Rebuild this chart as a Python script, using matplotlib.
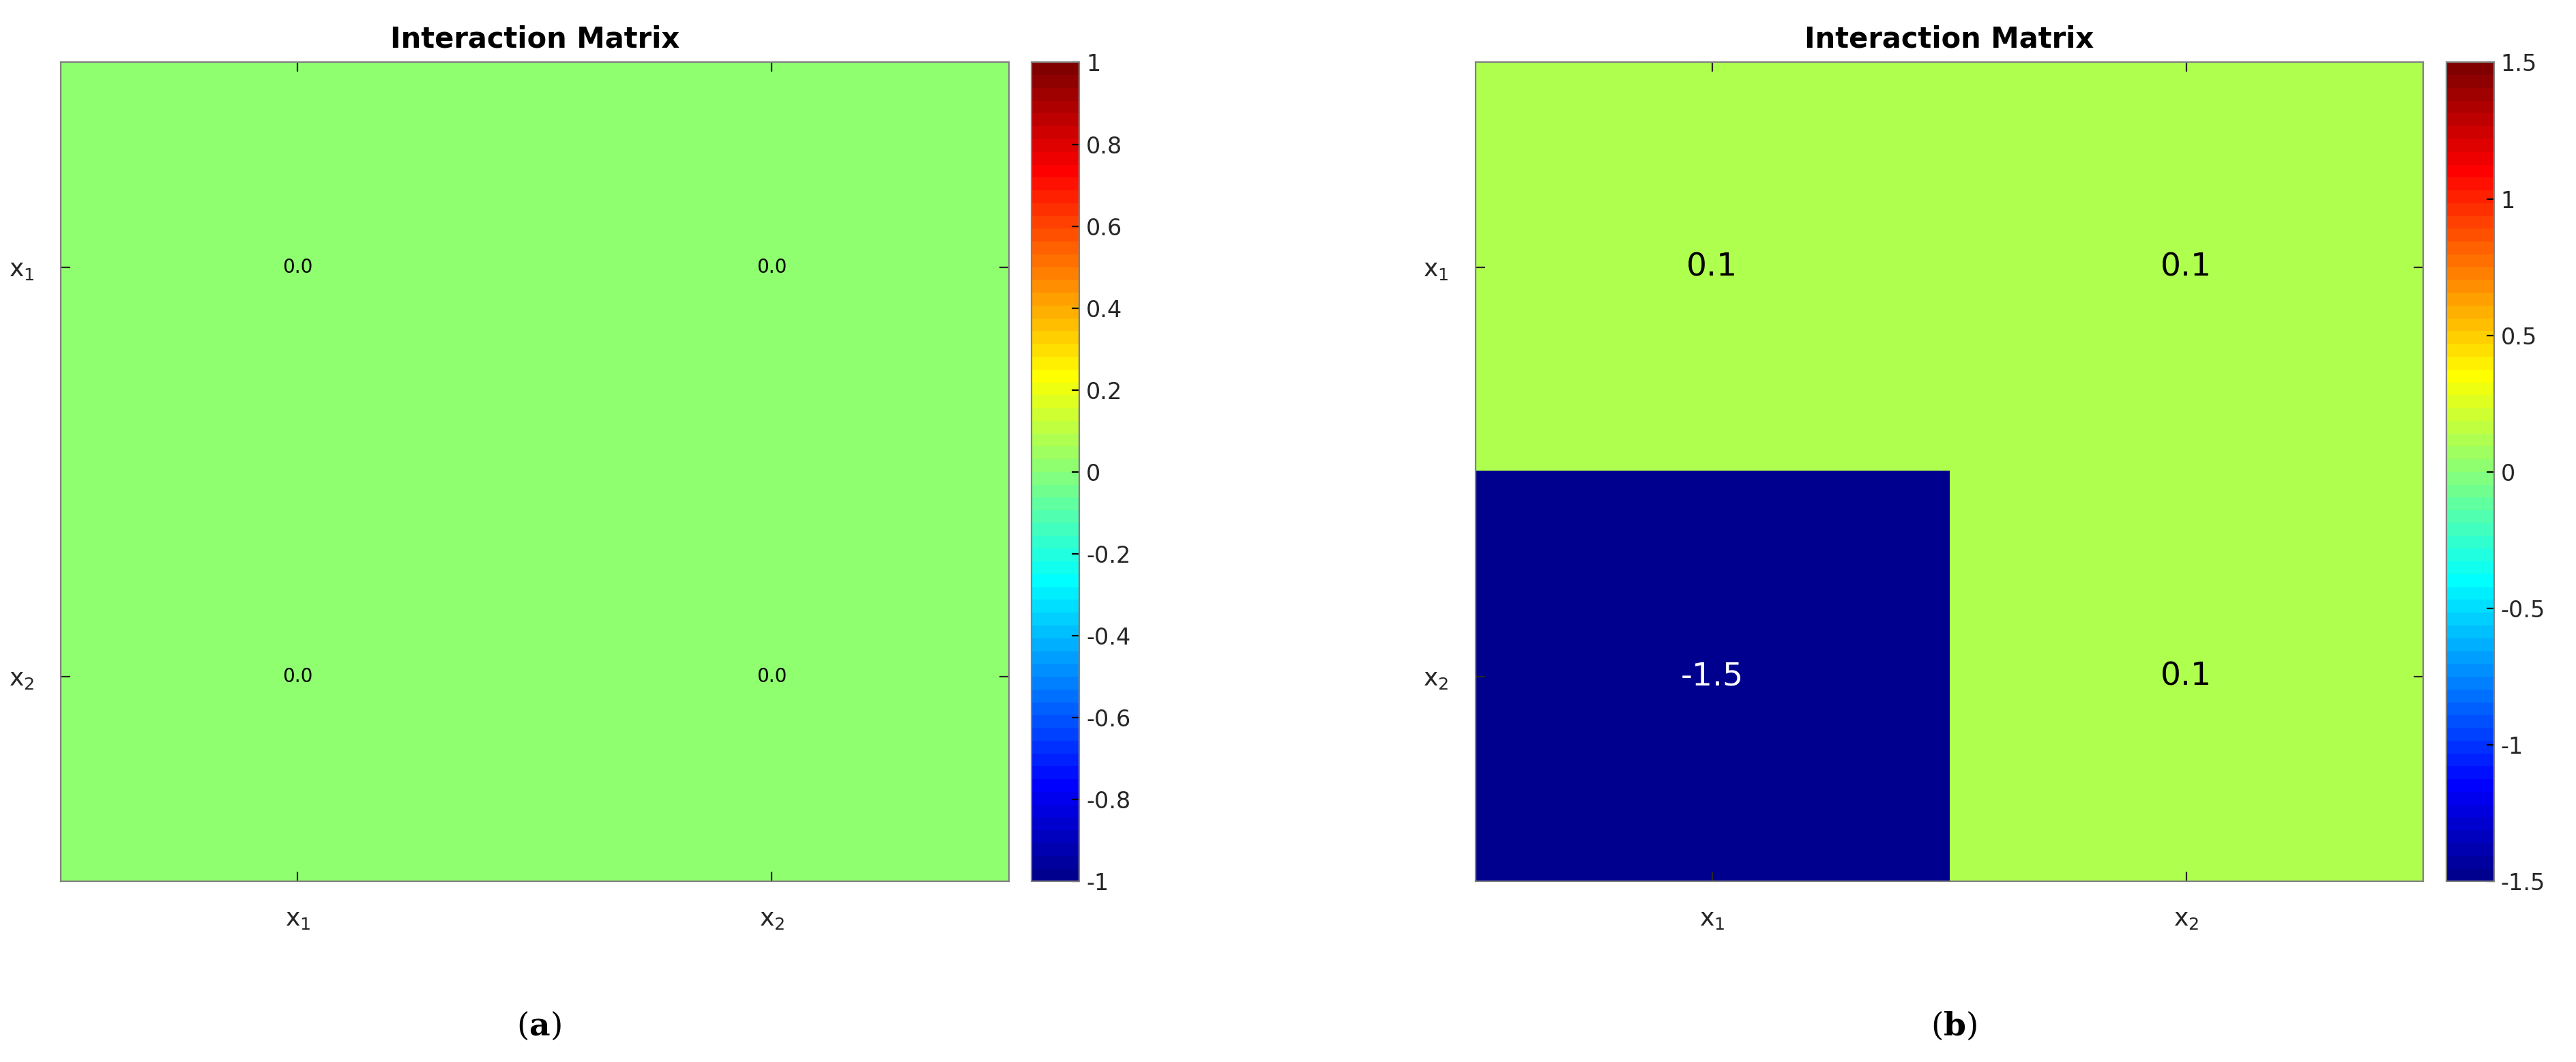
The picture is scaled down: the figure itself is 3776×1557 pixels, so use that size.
import numpy as np
import matplotlib.pyplot as plt
from matplotlib.colors import ListedColormap

labels = ["x$_1$", "x$_2$"]
mat_a = np.array([[0.0, 0.0], [0.0, 0.0]])
mat_b = np.array([[0.1, 0.1], [-1.5, 0.1]])
lim_a = 1.0
lim_b = 1.5
ticks_a = [-1, -0.8, -0.6, -0.4, -0.2, 0, 0.2, 0.4, 0.6, 0.8, 1]
ticks_b = [-1.5, -1, -0.5, 0, 0.5, 1, 1.5]

# MATLAB style jet(64)
xk = np.arange(1, 65) / 64.0
jet64 = np.clip(np.stack([1.5 - np.abs(4 * xk - 3),
                          1.5 - np.abs(4 * xk - 2),
                          1.5 - np.abs(4 * xk - 1)], axis=1), 0, 1)
cmap = ListedColormap(jet64)

W, H = 1568.0, 647.0
fig = plt.figure(figsize=(18.88, 7.785), dpi=200)


def panel(x0, cx, mat, lim, ticks, afs, tag):
    ax = fig.add_axes([x0 / W, 1 - 537 / H, 577 / W, 499 / H])
    im = ax.imshow(mat, cmap=cmap, vmin=-lim, vmax=lim, aspect="auto")
    for i in range(2):
        for j in range(2):
            v = mat[i, j]
            col = "white" if v < -0.5 * lim else "black"
            ax.text(j, i, "%.1f" % v, ha="center", va="center", fontsize=afs, color=col)
    ax.set_xticks([0, 1])
    ax.set_yticks([0, 1])
    ax.set_xticklabels(labels, fontsize=13, color="#262626")
    ax.set_yticklabels(labels, fontsize=13, color="#262626")
    ax.tick_params(direction="in", top=True, right=True, length=5, pad=14, color="#262626")
    for s in ax.spines.values():
        s.set_color("#808080")
    ax.set_title("Interaction Matrix", fontsize=15, fontweight="bold", pad=8)
    cax = fig.add_axes([cx / W, 1 - 537 / H, 29 / W, 499 / H])
    cb = fig.colorbar(im, cax=cax, ticks=ticks)
    cb.ax.set_yticklabels(["%g" % t for t in ticks], fontsize=12, color="#262626")
    cb.ax.tick_params(direction="in", length=4)
    cb.outline.set_edgecolor("#808080")
    fig.text((x0 + 288) / W + 0.002, 1 - 625 / H, "($\\mathbf{%s}$)" % tag,
             ha="center", va="center", fontsize=17, family="serif",
             math_fontfamily="dejavuserif")


panel(37, 628, mat_a, lim_a, ticks_a, 10, "a")
panel(898, 1489, mat_b, lim_b, ticks_b, 17, "b")

fig.savefig("out.png", dpi=200)
